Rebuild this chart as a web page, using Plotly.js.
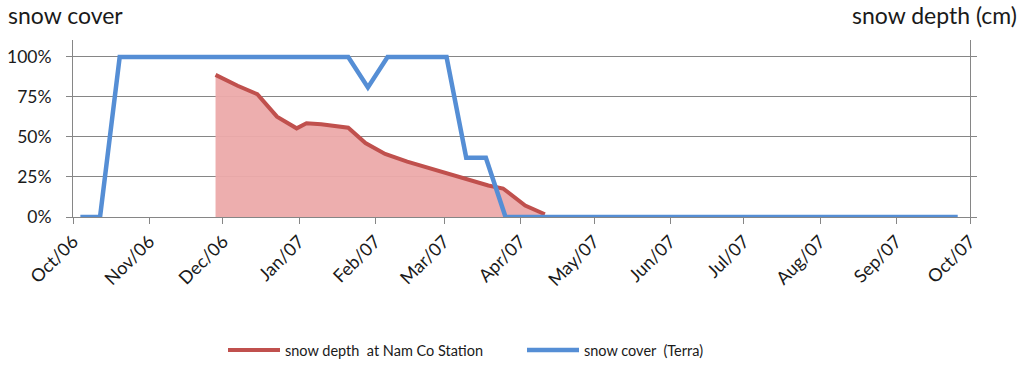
<!DOCTYPE html>
<html>
<head>
<meta charset="utf-8">
<script src="https://cdn.plot.ly/plotly-3.0.1.min.js"></script>
<style>html,body{margin:0;padding:0;background:#fff;}#chart{width:1024px;height:367px;}</style>
</head>
<body>
<div id="chart"></div>
<script>
// snow cover (Terra), fraction of area
var coverDates = ['2006-10-04','2006-10-12','2006-10-20','2007-01-21','2007-01-29','2007-02-06','2007-03-02','2007-03-10','2007-03-18','2007-03-26','2007-09-26'];
var coverValues = [0, 0, 1.0, 1.0, 0.81, 1.0, 1.0, 0.37, 0.37, 0, 0];

// snow depth at Nam Co Station (relative to the shared scale)
var depthDates = ['2006-11-28','2006-12-07','2006-12-15','2006-12-23','2006-12-31','2007-01-04','2007-01-10','2007-01-21','2007-01-28','2007-02-05','2007-02-14','2007-02-22','2007-03-01','2007-03-09','2007-03-19','2007-03-25','2007-04-03','2007-04-11'];
var depthValues = [0.888, 0.82, 0.767, 0.627, 0.554, 0.586, 0.579, 0.558, 0.462, 0.394, 0.346, 0.31, 0.278, 0.237, 0.197, 0.178, 0.072, 0.017];

var yTicks = [0, 0.25, 0.5, 0.75, 1.0];
var yTickText = ['0%', '25%', '50%', '75%', '100%'];

var FONT = 'Lato, "Open Sans", sans-serif';
var TXT = '#1a1a1a';

var traces = [
  {
    x: depthDates, y: depthValues, type: 'scatter', mode: 'none',
    showlegend: false, hoverinfo: 'skip',
    fill: 'tozeroy', fillcolor: 'rgba(236,170,170,0.95)'
  },
  {
    x: depthDates, y: depthValues, type: 'scatter', mode: 'lines',
    name: 'snow depth  at Nam Co Station',
    line: {color: '#c0504d', width: 4}
  },
  {
    x: coverDates, y: coverValues, type: 'scatter', mode: 'lines',
    name: 'snow cover  (Terra)',
    line: {color: '#558ed5', width: 4.5}
  }
];

var layout = {
  width: 1024, height: 367,
  margin: {l: 73, r: 54, t: 40, b: 150},
  paper_bgcolor: '#fff', plot_bgcolor: '#fff',
  font: {family: FONT, size: 15, color: TXT},
  showlegend: true,
  legend: {orientation: 'h', x: (223 - 73) / 897, xanchor: 'left',
           yref: 'container', y: 17 / 367, yanchor: 'middle',
           font: {family: FONT, size: 14.5, color: TXT}, itemwidth: 52,
           entrywidth: 232, entrywidthmode: 'pixels', traceorder: 'normal'},
  xaxis: {
    type: 'date', range: ['2006-10-01', '2007-10-01'],
    tick0: '2006-10-01', dtick: 'M1', tickformat: '%b/%y',
    tickangle: -45, ticks: 'outside', ticklen: 6, tickcolor: '#868686',
    showline: true, linecolor: '#868686', linewidth: 1,
    showgrid: false, zeroline: false,
    tickfont: {family: FONT, size: 18, color: TXT}
  },
  yaxis: {
    range: [0, 1.106], tickvals: yTicks, ticktext: yTickText,
    ticks: 'outside', ticklen: 6, tickcolor: '#868686', ticklabelstandoff: 11,
    showline: true, linecolor: '#868686', linewidth: 1, mirror: 'ticks',
    showgrid: true, gridcolor: '#868686', gridwidth: 1, zeroline: false,
    tickfont: {family: FONT, size: 17.5, color: TXT}
  },
  annotations: [
    {text: 'snow cover', xref: 'paper', yref: 'paper', x: -67/897, y: 1 + 25/177,
     xanchor: 'left', yanchor: 'middle', showarrow: false, font: {family: FONT, size: 23, color: TXT}},
    {text: 'snow depth (cm)', xref: 'paper', yref: 'paper', x: 1 + 49/897, y: 1 + 25/177,
     xanchor: 'right', yanchor: 'middle', showarrow: false, font: {family: FONT, size: 23, color: TXT}}
  ]
};

Plotly.newPlot('chart', traces, layout, {displayModeBar: false, staticPlot: true});
</script>
</body>
</html>
